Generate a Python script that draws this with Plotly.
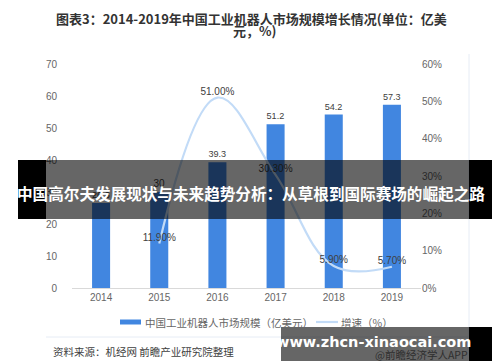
import plotly.graph_objects as go

years = ["2014", "2015", "2016", "2017", "2018", "2019"]
market_size = [26.6, 30.0, 39.3, 51.2, 54.2, 57.3]
growth_years = ["2015", "2016", "2017", "2018", "2019"]
growth_rate = [11.9, 51.0, 30.3, 5.9, 5.7]
left_ticks = [0, 10, 20, 30, 40, 50, 60, 70]
right_ticks = [0, 10, 20, 30, 40, 50, 60]

title_l1 = "图表3：2014-2019年中国工业机器人市场规模增长情况(单位：亿美"
title_l2 = "元，%)"
legend_bar = "中国工业机器人市场规模（亿美元）"
legend_line = "增速（%）"
source = "资料来源：机经网 前瞻产业研究院整理"
credit = "@前瞻经济学人APP"
banner = "中国高尔夫发展现状与未来趋势分析：从草根到国际赛场的崛起之路"
watermark = "www.zhcn-xinaocai.com"

W, H = 500, 362
L, R, T, B = 64, 413, 56, 280


def px(x):
    return (x - L) / (R - L)


def py(y):
    return (B - y) / (B - T)


CJK = "Noto Sans CJK SC, sans-serif"
BAR = "#4186E0"
LINE = "#C2DBF7"
TICK = "#666666"
NUMF = "Liberation Sans, Arial"

fig = go.Figure()
fig.add_trace(go.Bar(
    x=years, y=market_size, marker=dict(color=BAR, line=dict(width=0)),
    width=0.31, text=[f"{v:.1f}" if v != 30.0 else "30" for v in market_size],
    textposition="outside", cliponaxis=False,
    textfont=dict(size=10, color="#404040", family=NUMF),
    showlegend=False,
))
fig.add_trace(go.Scatter(
    x=growth_years, y=growth_rate, yaxis="y2", mode="lines+text",
    line=dict(color=LINE, width=2.2, shape="spline", smoothing=1.1),
    text=[f"{v:.2f}%" for v in growth_rate], textposition="top center",
    textfont=dict(size=10, color="#404040", family=NUMF),
    cliponaxis=False, showlegend=False,
))

shapes = []
annotations = []

# chart frame lines
shapes.append(dict(type="line", xref="paper", yref="paper", x0=px(461), x1=px(461),
                   y0=py(46), y1=py(329), line=dict(color="#E6ECF5", width=1)))
shapes.append(dict(type="line", xref="paper", yref="paper", x0=px(38), x1=px(461),
                   y0=py(329), y1=py(329), line=dict(color="#E6ECF5", width=1)))

# custom legend
shapes.append(dict(type="rect", xref="paper", yref="paper", x0=px(112), x1=px(133),
                   y0=py(311.5), y1=py(316.5), fillcolor=BAR, line=dict(width=0)))
shapes.append(dict(type="line", xref="paper", yref="paper", x0=px(308), x1=px(330),
                   y0=py(314), y1=py(314), line=dict(color=LINE, width=2.2)))
annotations.append(dict(xref="paper", yref="paper", x=px(135), y=py(314), text=legend_bar,
                        showarrow=False, xanchor="left", yanchor="middle",
                        font=dict(size=10.5, color=TICK, family=CJK)))
annotations.append(dict(xref="paper", yref="paper", x=px(331), y=py(314), text=legend_line,
                        showarrow=False, xanchor="left", yanchor="middle",
                        font=dict(size=10.5, color=TICK, family=CJK)))

# title
annotations.append(dict(xref="paper", yref="paper", x=px(243), y=py(10), text="<b>" + title_l1 + "</b>",
                        showarrow=False, xanchor="center", yanchor="middle",
                        font=dict(size=13, color="#333333", family=CJK)))
annotations.append(dict(xref="paper", yref="paper", x=px(247), y=py(23), text="<b>" + title_l2 + "</b>",
                        showarrow=False, xanchor="center", yanchor="middle",
                        font=dict(size=13, color="#333333", family=CJK)))

# source
annotations.append(dict(xref="paper", yref="paper", x=px(43), y=py(343), text=source,
                        showarrow=False, xanchor="left", yanchor="middle",
                        font=dict(size=10.5, color="#404040", family=CJK)))
annotations.append(dict(xref="paper", yref="paper", x=px(462), y=py(346), text=credit,
                        showarrow=False, xanchor="right", yanchor="middle",
                        font=dict(size=10.5, color="#2e2e2e", family=CJK)))

# banner overlay
shapes.append(dict(type="rect", xref="paper", yref="paper", layer="above", x0=px(10), x1=px(38),
                   y0=py(152), y1=py(211), fillcolor="black", line=dict(width=0)))
shapes.append(dict(type="rect", xref="paper", yref="paper", layer="above", x0=px(461), x1=px(490),
                   y0=py(152), y1=py(211), fillcolor="black", line=dict(width=0)))
shapes.append(dict(type="rect", xref="paper", yref="paper", layer="above", x0=px(38), x1=px(461),
                   y0=py(152), y1=py(211), fillcolor="rgba(0,0,0,0.6)", line=dict(width=0)))
annotations.append(dict(xref="paper", yref="paper", x=px(243), y=py(185), text="<b>" + banner + "</b>",
                        showarrow=False, xanchor="center", yanchor="middle",
                        font=dict(size=15.6, color="white", family=CJK)))

# watermark box
shapes.append(dict(type="rect", xref="paper", yref="paper", layer="above", x0=px(273), x1=px(461),
                   y0=py(319), y1=py(353), fillcolor="rgba(0,0,0,0.6)", line=dict(width=0)))
shapes.append(dict(type="rect", xref="paper", yref="paper", layer="above", x0=px(461), x1=px(491),
                   y0=py(319), y1=py(353), fillcolor="black", line=dict(width=0)))
annotations.append(dict(xref="paper", yref="paper", x=px(365), y=py(334), text="<b>" + watermark + "</b>",
                        showarrow=False, xanchor="center", yanchor="middle",
                        font=dict(size=14.5, color="white", family="DejaVu Sans, sans-serif")))

fig.update_layout(
    width=W, height=H, margin=dict(l=L, r=W - R, t=T, b=H - B),
    paper_bgcolor="white", plot_bgcolor="white", bargap=0.6,
    font=dict(family=CJK, color=TICK),
    shapes=shapes, annotations=annotations,
    xaxis=dict(type="category", categoryorder="array", categoryarray=years,
               range=[-0.5, 5.5], showgrid=False, showline=True, linecolor="#D9D9D9",
               linewidth=1, ticks="", tickfont=dict(size=10, color=TICK, family=NUMF)),
    yaxis=dict(range=[0, 70], tickvals=left_ticks, showgrid=False, zeroline=False,
               showline=False, ticks="", ticklabelstandoff=14,
               tickfont=dict(size=10, color=TICK, family=NUMF)),
    yaxis2=dict(range=[0, 60], tickvals=right_ticks, ticktext=[f"{v}%" for v in right_ticks],
                overlaying="y", side="right", showgrid=False, zeroline=False, showline=False,
                ticks="", ticklabelstandoff=0,
                tickfont=dict(size=10, color=TICK, family=NUMF)),
)

fig.write_html("out.html")
